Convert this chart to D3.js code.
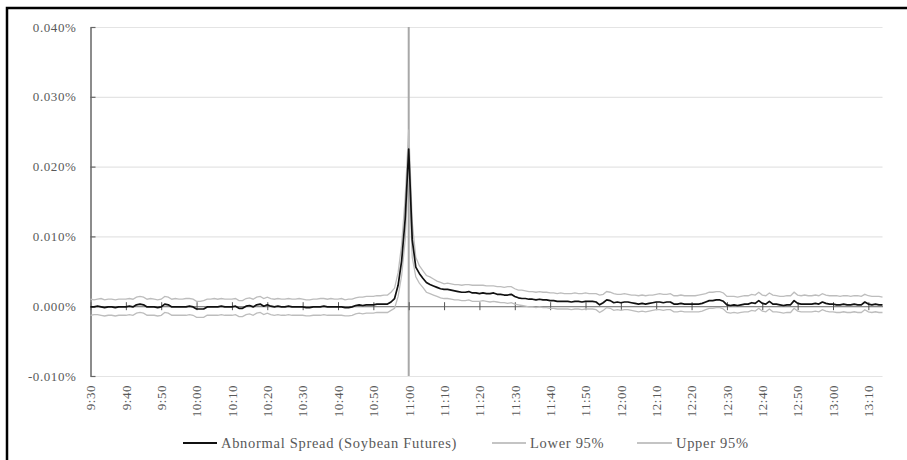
<!DOCTYPE html>
<html>
<head>
<meta charset="utf-8">
<script src="https://cdn.jsdelivr.net/npm/d3@7"></script>
<style>
  html, body { margin: 0; padding: 0; background: #fff; }
  svg { display: block; }
</style>
</head>
<body>
<svg id="chart" width="907" height="460"></svg>
<script>
// Values are in units of 0.001 percentage points (e.g. 22.5 => 0.0225%), one per minute from 9:30
const minuteStart = "9:30";
const abnormalSpread = [
  -0.1, -0.1, 0.0, -0.1, -0.2, -0.1, -0.1, -0.2, -0.1, -0.1,
  -0.1, 0.0, -0.1, 0.2, 0.3, 0.2, -0.1, -0.1, -0.1, -0.2,
  -0.1, 0.3, 0.2, -0.1, -0.1, -0.1, -0.1, -0.1, 0.0, -0.1,
  -0.4, -0.4, -0.4, -0.1, -0.1, -0.1, -0.1, 0.0, -0.1, -0.1,
  -0.1, 0.0, -0.3, -0.3, 0.0, 0.1, -0.1, 0.2, 0.3, 0.0,
  0.2, 0.0, -0.1, 0.0, -0.1, -0.1, 0.0, -0.1, -0.1, -0.1,
  -0.1, -0.2, -0.2, -0.1, -0.1, -0.1, 0.0, -0.1, -0.1, -0.1,
  -0.1, -0.1, -0.2, -0.2, -0.1, 0.1, 0.2, 0.1, 0.2, 0.2,
  0.2, 0.3, 0.3, 0.3, 0.3, 0.6, 1.1, 3.0, 6.5, 12.5,
  22.5, 9.5, 5.6, 4.7, 4.0, 3.4, 3.1, 2.9, 2.7, 2.5,
  2.4, 2.4, 2.3, 2.2, 2.1, 2.0, 2.0, 2.1, 1.9, 1.9,
  1.8, 1.9, 1.8, 1.8, 1.9, 1.7, 1.7, 1.6, 1.6, 1.7,
  1.4, 1.2, 1.1, 1.1, 1.0, 1.0, 0.9, 1.0, 0.9, 0.9,
  0.8, 0.8, 0.7, 0.7, 0.7, 0.7, 0.6, 0.7, 0.7, 0.6,
  0.7, 0.7, 0.7, 0.6, 0.2, 0.5, 0.9, 0.8, 0.5, 0.6,
  0.5, 0.6, 0.6, 0.5, 0.4, 0.3, 0.4, 0.3, 0.4, 0.5,
  0.6, 0.6, 0.5, 0.6, 0.6, 0.3, 0.3, 0.4, 0.3, 0.3,
  0.3, 0.3, 0.3, 0.4, 0.6, 0.8, 0.8, 0.9, 0.9, 0.7,
  0.2, 0.1, 0.2, 0.1, 0.2, 0.3, 0.3, 0.5, 0.4, 0.8,
  0.4, 0.3, 0.7, 0.3, 0.3, 0.2, 0.1, 0.2, 0.2, 0.8,
  0.4, 0.3, 0.3, 0.3, 0.3, 0.4, 0.3, 0.6, 0.4, 0.3,
  0.3, 0.2, 0.2, 0.3, 0.2, 0.2, 0.3, 0.2, 0.2, 0.6,
  0.3, 0.2, 0.3, 0.2, 0.2
];
const lower95 = [
  -1.3, -1.2, -1.2, -1.3, -1.4, -1.3, -1.3, -1.4, -1.3, -1.3,
  -1.3, -1.2, -1.3, -1.0, -0.9, -1.0, -1.3, -1.3, -1.3, -1.4,
  -1.3, -0.9, -1.0, -1.3, -1.3, -1.3, -1.3, -1.3, -1.2, -1.3,
  -1.6, -1.6, -1.6, -1.3, -1.3, -1.3, -1.3, -1.2, -1.3, -1.3,
  -1.3, -1.2, -1.5, -1.5, -1.2, -1.1, -1.3, -1.0, -0.9, -1.2,
  -1.0, -1.2, -1.3, -1.2, -1.3, -1.3, -1.2, -1.3, -1.3, -1.3,
  -1.3, -1.4, -1.4, -1.3, -1.3, -1.3, -1.2, -1.3, -1.3, -1.3,
  -1.3, -1.3, -1.4, -1.4, -1.3, -1.1, -1.0, -1.1, -1.0, -1.0,
  -1.0, -0.9, -0.9, -0.9, -0.9, -0.6, -0.3, 1.4, 4.4, 9.5,
  19.8, 7.0, 4.2, 3.3, 2.7, 2.0, 1.8, 1.6, 1.4, 1.2,
  1.1, 1.1, 1.0, 0.9, 0.9, 0.8, 0.8, 0.9, 0.7, 0.7,
  0.7, 0.8, 0.7, 0.6, 0.7, 0.6, 0.5, 0.5, 0.4, 0.5,
  0.3, 0.2, 0.1, 0.0, -0.1, -0.1, -0.2, -0.1, -0.2, -0.2,
  -0.3, -0.3, -0.4, -0.4, -0.4, -0.4, -0.5, -0.4, -0.4, -0.5,
  -0.4, -0.4, -0.4, -0.5, -0.9, -0.6, -0.2, -0.3, -0.6, -0.5,
  -0.6, -0.5, -0.5, -0.6, -0.7, -0.8, -0.7, -0.8, -0.7, -0.6,
  -0.5, -0.5, -0.6, -0.5, -0.5, -0.8, -0.8, -0.7, -0.8, -0.8,
  -0.8, -0.8, -0.8, -0.7, -0.5, -0.3, -0.3, -0.2, -0.2, -0.4,
  -0.9, -1.0, -0.9, -1.0, -0.9, -0.8, -0.8, -0.6, -0.7, -0.3,
  -0.7, -0.8, -0.4, -0.8, -0.8, -0.9, -1.0, -0.9, -0.9, -0.3,
  -0.7, -0.8, -0.8, -0.8, -0.8, -0.7, -0.8, -0.5, -0.7, -0.8,
  -0.8, -0.9, -0.9, -0.8, -0.9, -0.9, -0.8, -0.9, -0.9, -0.5,
  -0.8, -0.9, -0.8, -0.9, -0.9
];
const upper95 = [
  1.0, 0.9, 1.0, 1.1, 0.9, 1.0, 1.0, 0.9, 1.0, 1.0,
  1.0, 1.1, 1.0, 1.3, 1.4, 1.3, 1.0, 1.1, 1.0, 0.9,
  1.0, 1.4, 1.3, 1.0, 1.1, 1.0, 1.0, 1.1, 1.1, 1.0,
  0.7, 0.7, 0.8, 1.0, 1.0, 1.1, 1.0, 1.1, 1.0, 1.0,
  1.0, 1.1, 0.8, 0.8, 1.1, 1.2, 1.0, 1.3, 1.4, 1.1,
  1.3, 1.1, 1.0, 1.1, 1.0, 1.0, 1.1, 1.0, 1.0, 1.1,
  1.0, 0.9, 0.9, 1.0, 1.0, 1.1, 1.1, 1.0, 1.1, 1.0,
  1.0, 1.1, 0.9, 1.0, 1.0, 1.2, 1.3, 1.3, 1.4, 1.4,
  1.4, 1.5, 1.5, 1.6, 1.6, 2.0, 2.6, 4.8, 8.8, 15.5,
  25.3, 12.0, 7.0, 5.8, 5.1, 4.4, 4.2, 3.9, 3.6, 3.4,
  3.2, 3.3, 3.2, 3.1, 3.1, 3.0, 3.1, 3.1, 3.0, 3.0,
  3.0, 3.0, 2.9, 2.9, 2.9, 2.8, 2.8, 2.7, 2.8, 2.8,
  2.5, 2.3, 2.3, 2.2, 2.1, 2.1, 2.0, 2.1, 2.0, 2.0,
  1.9, 1.9, 1.8, 1.9, 1.8, 1.8, 1.8, 1.9, 1.8, 1.8,
  1.9, 1.8, 1.8, 1.8, 1.6, 1.7, 2.1, 2.0, 1.8, 1.7,
  1.7, 1.8, 1.7, 1.6, 1.6, 1.5, 1.6, 1.5, 1.6, 1.6,
  1.7, 1.8, 1.7, 1.7, 1.8, 1.5, 1.5, 1.6, 1.5, 1.5,
  1.5, 1.5, 1.6, 1.7, 1.8, 2.0, 2.0, 2.1, 2.1, 1.9,
  1.4, 1.4, 1.4, 1.3, 1.4, 1.5, 1.5, 1.7, 1.6, 2.0,
  1.6, 1.5, 1.9, 1.6, 1.5, 1.4, 1.4, 1.5, 1.5, 2.0,
  1.6, 1.5, 1.6, 1.5, 1.5, 1.6, 1.5, 1.8, 1.6, 1.5,
  1.5, 1.5, 1.4, 1.5, 1.5, 1.4, 1.5, 1.5, 1.4, 1.7,
  1.5, 1.4, 1.4, 1.4, 1.3
];
const tickLabels = ["9:30","9:40","9:50","10:00","10:10","10:20","10:30","10:40","10:50","11:00",
  "11:10","11:20","11:30","11:40","11:50","12:00","12:10","12:20","12:30","12:40","12:50","13:00","13:10"];
const tickMinutes = [0,10,20,30,40,50,60,70,80,90,100,110,120,130,140,150,160,170,180,190,200,210,220];
const yTicks = [-0.01, 0, 0.01, 0.02, 0.03, 0.04]; // percent
const eventMinute = 90;
const seriesNames = ["Abnormal Spread (Soybean Futures)", "Lower 95%", "Upper 95%"];

const UNIT = 1000; // stored value / UNIT = percent
const svg = d3.select("#chart");
const serif = "'Liberation Serif', 'Times New Roman', serif";

// frame
svg.append("rect").attr("x", 7).attr("y", 8).attr("width", 920).attr("height", 470)
  .attr("fill", "#fff").attr("stroke", "#000").attr("stroke-width", 2.5);

const L = 90.5, R = 882.5, T = 27, B = 376;
const x = d3.scaleLinear().domain([0, abnormalSpread.length - 1]).range([L, R]);
const y = d3.scaleLinear().domain([-0.01, 0.04]).range([B, T]);

// gridlines
svg.append("g").attr("transform", `translate(${L},0)`)
  .call(d3.axisLeft(y).tickValues(yTicks).tickSize(-(R - L)).tickFormat(""))
  .call(g => g.select(".domain").remove())
  .call(g => g.selectAll("line").attr("stroke", "#e4e4e4").attr("stroke-width", 1.2));

// event vertical line
svg.append("line")
  .attr("x1", x(eventMinute)).attr("x2", x(eventMinute))
  .attr("y1", y(0.04)).attr("y2", y(-0.01))
  .attr("stroke", "#a8a8a8").attr("stroke-width", 2);

// x axis at zero with crossing ticks
const xAxisG = svg.append("g").attr("transform", `translate(0,${y(0)})`)
  .call(d3.axisBottom(x).tickValues(tickMinutes).tickSizeOuter(0).tickFormat(""));
xAxisG.select(".domain").attr("stroke", "#8a8a8a").attr("stroke-width", 1.2);
xAxisG.selectAll(".tick line").attr("y1", -4).attr("y2", 4).attr("stroke", "#555").attr("stroke-width", 1);

// y axis
const yAxisG = svg.append("g").attr("transform", `translate(${L},0)`)
  .call(d3.axisLeft(y).tickValues(yTicks).tickSizeInner(-5).tickSizeOuter(0).tickPadding(14)
    .tickFormat(d => d.toFixed(3) + "%"));
yAxisG.select(".domain").attr("stroke", "#666").attr("stroke-width", 1.5);
yAxisG.selectAll(".tick line").attr("stroke", "#666").attr("stroke-width", 1.2);
yAxisG.selectAll("text").attr("fill", "#595959").style("font-family", serif)
  .style("font-size", "13px").style("letter-spacing", "0.6px");

// x labels at bottom
const xLab = svg.append("g").attr("transform", `translate(0,${B})`)
  .call(d3.axisBottom(x).tickValues(tickMinutes).tickSize(0).tickFormat((d, i) => tickLabels[i]));
xLab.select(".domain").remove();
xLab.selectAll("text")
  .attr("fill", "#595959").style("font-family", serif).style("font-size", "13px")
  .style("letter-spacing", "0.5px")
  .attr("text-anchor", "end").attr("y", 0).attr("dy", "0.33em")
  .attr("transform", "translate(0,9) rotate(-90)");

// lines
const line = d3.line().x((d, i) => x(i)).y(d => y(d / UNIT));
svg.append("path").datum(lower95).attr("d", line).attr("fill", "none")
  .attr("stroke", "#bdbdbd").attr("stroke-width", 1.3);
svg.append("path").datum(upper95).attr("d", line).attr("fill", "none")
  .attr("stroke", "#bdbdbd").attr("stroke-width", 1.3);
svg.append("path").datum(abnormalSpread).attr("d", line).attr("fill", "none")
  .attr("stroke", "#111").attr("stroke-width", 1.7).attr("stroke-linejoin", "round");

// legend
const legendY = 443;
const legendItems = [
  { name: seriesNames[0], x1: 183, x2: 217, color: "#111", w: 2 },
  { name: seriesNames[1], x1: 492, x2: 526, color: "#b0b0b0", w: 1.3 },
  { name: seriesNames[2], x1: 637, x2: 672, color: "#b0b0b0", w: 1.3 }
];
const lg = svg.append("g");
legendItems.forEach(it => {
  lg.append("line").attr("x1", it.x1).attr("x2", it.x2).attr("y1", legendY).attr("y2", legendY)
    .attr("stroke", it.color).attr("stroke-width", it.w);
  lg.append("text").attr("x", it.x2 + 4).attr("y", legendY).attr("dy", "0.35em")
    .attr("fill", "#595959").style("font-family", serif).style("font-size", "14.5px")
    .style("letter-spacing", "0.7px").text(it.name);
});
</script>
</body>
</html>
